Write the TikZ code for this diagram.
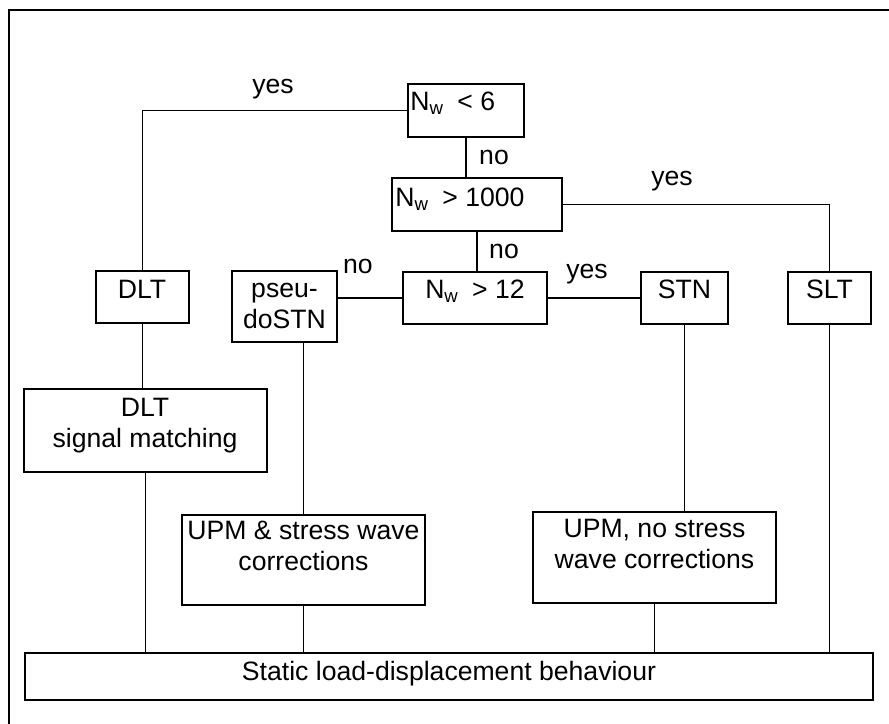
\documentclass[tikz,border=0pt]{standalone}
\usepackage{fontspec}
\setmainfont{Liberation Sans}
\usetikzlibrary{fit,positioning}
\tikzset{
  box/.style={draw, line width=1.4pt, inner sep=0pt},
  txt/.style={inner sep=0pt, align=center, font=\fontsize{13.3}{15.3}\selectfont},
  link/.style={line width=0.9pt},
}
\begin{document}
\begin{tikzpicture}[x=0.5pt,y=-0.5pt]
        \useasboundingbox (0,0) rectangle (889,723);
        % frame
        \draw[line width=1.2pt] (9,740) -- (9,10) -- (900,10);
        % boxes
        \node[box, fit={(408,84) (524,137)}] (lt6) {};
        \node[box, fit={(392,178) (562,231)}] (gt1000) {};
        \node[box, fit={(403,272) (547,324)}] (gt12) {};
        \node[box, fit={(96,271) (189,323)}] (dlt) {};
        \node[box, fit={(232,271) (337,342)}] (pseudo) {};
        \node[box, fit={(641,272) (728,324)}] (stn) {};
        \node[box, fit={(788,272) (871,324)}] (slt) {};
        \node[box, fit={(24,389) (267,472)}] (signal) {};
        \node[box, fit={(182,515) (425,605)}] (upmsw) {};
        \node[box, fit={(533,512) (776,603)}] (upmno) {};
        \node[box, fit={(25,653) (873,700)}] (static) {};
        % texts (multi-line ones sit on their last line)
        \node[txt, anchor=base west] (lt6-t) at (410,110) {N\textsubscript{w}\enspace< 6};
        \node[txt, anchor=base west] (gt1000-t) at (395,206) {N\textsubscript{w}\enspace> 1000};
        \node[txt, anchor=base] (gt12-t) at (475,298) {N\textsubscript{w}\enspace> 12};
        \node[txt, anchor=base] (dlt-t) at (142,298) {DLT};
        \node[txt, anchor=base] (pseudo-t) at (284.5,328) {pseu-\\doSTN};
        \node[txt, anchor=base] (stn-t) at (684.5,298) {STN};
        \node[txt, anchor=base] (slt-t) at (829.5,298) {SLT};
        \node[txt, anchor=base] (signal-t) at (145,447) {DLT\\signal matching};
        \node[txt, anchor=base] (upmsw-t) at (303.5,570) {UPM \& stress wave\\corrections};
        \node[txt, anchor=base] (upmno-t) at (654.5,568) {UPM, no stress\\wave corrections};
        \node[txt, anchor=base] (static-t) at (449,680) {Static load-displacement behaviour};
        % labels
        \node[txt, anchor=base] (yes1) at (273,93) {yes};
        \node[txt, anchor=base] (no1) at (494,164) {no};
        \node[txt, anchor=base] (yes2) at (672,185) {yes};
        \node[txt, anchor=base] (no2) at (504,258) {no};
        \node[txt, anchor=base] (no3) at (358,273) {no};
        \node[txt, anchor=base] (yes3) at (587,278) {yes};
        % lines
        \draw[link] (lt6.west) -| (dlt.north);
        \draw[link] (lt6.south) -- (lt6.south |- gt1000.north);
        \draw[link] (gt1000.east) -| (slt.north);
        \draw[link] (gt1000.south) -- (gt1000.south |- gt12.north);
        \draw[link] (gt12.west) -- (gt12.west -| pseudo.east);
        \draw[link] (gt12.east) -- (stn.west);
        \draw[link] (dlt.south) -- (dlt.south |- signal.north);
        \draw[link] (signal.south) -- (signal.south |- static.north);
        \draw[link] (upmsw.north |- pseudo.south) -- (upmsw.north);
        \draw[link] (upmsw.south) -- (upmsw.south |- static.north);
        \draw[link] (stn.south) -- (stn.south |- upmno.north);
        \draw[link] (upmno.south) -- (upmno.south |- static.north);
        \draw[link] (slt.south) -- (slt.south |- static.north);
      \end{tikzpicture}
\end{document}
